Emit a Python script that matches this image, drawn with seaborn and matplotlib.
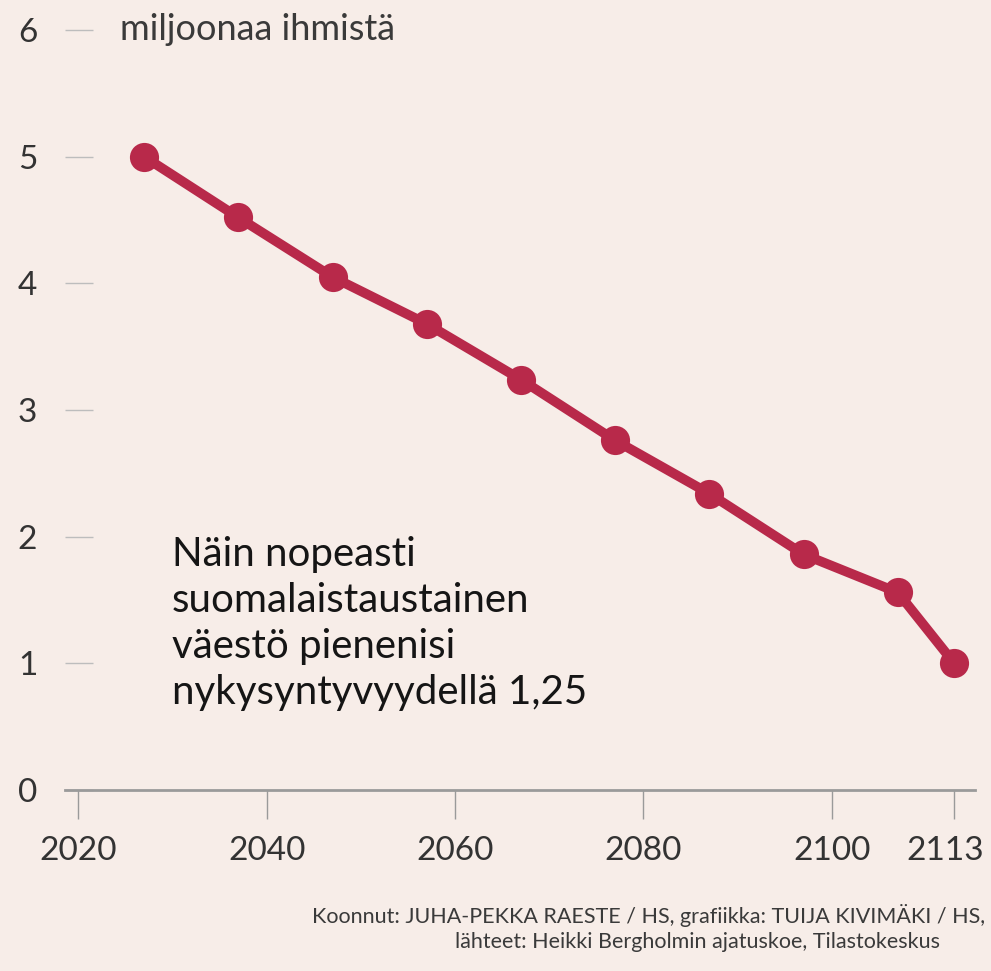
import matplotlib
matplotlib.use("Agg")
import matplotlib.pyplot as plt
import matplotlib.transforms as mtransforms
import seaborn as sns
import pandas as pd

# Data
years = [2027, 2037, 2047, 2057, 2067, 2077, 2087, 2097, 2107, 2113]
population = [5.0, 4.52, 4.05, 3.68, 3.24, 2.76, 2.34, 1.86, 1.56, 1.0]
xticks = [2020, 2040, 2060, 2080, 2100, 2113]
yticks = [0, 1, 2, 3, 4, 5, 6]

bg = "#f7ede8"
red = "#b8294a"

sns.set_style("white")
plt.rcParams["font.family"] = ["Lato", "DejaVu Sans"]

df = pd.DataFrame({"year": years, "pop": population})

fig = plt.figure(figsize=(9.91, 9.71), dpi=100, facecolor=bg)
ax = fig.add_axes([65 / 991, 1 - 790 / 971, 910 / 991, 760 / 971])
ax.set_facecolor(bg)

sns.lineplot(data=df, x="year", y="pop", ax=ax, color=red, linewidth=7,
             marker="o", markersize=21, markeredgewidth=0, clip_on=False)

ax.set_xlim(2018.6, 2115.2)
ax.set_ylim(0, 6)
ax.set_xticks(xticks)
ax.set_yticks(yticks)
ax.set_xlabel("")
ax.set_ylabel("")

for s in ["top", "right", "left"]:
    ax.spines[s].set_visible(False)
ax.spines["bottom"].set_color("#9a9a9a")
ax.spines["bottom"].set_linewidth(2)

ax.tick_params(axis="x", direction="out", length=21, width=1, color="#9a9a9a",
               labelsize=24, labelcolor="#333333", pad=12, bottom=True)
ax.tick_params(axis="y", direction="in", length=20, width=1, color="#bdbdbd",
               labelsize=24, labelcolor="#333333", pad=20, left=True)

# last year label sits tight against the right edge, nudge it left a bit
last = ax.get_xticklabels()[-1]
last.set_transform(last.get_transform() +
                   mtransforms.ScaledTranslation(-9 / 100, 0, fig.dpi_scale_trans))

ax.text(2024.4, 6, "miljoonaa ihmistä", fontsize=26, color="#3a3a3a",
        va="center", ha="left")

fig.text(172 / 991, 1 - 536 / 971,
         "Näin nopeasti\nsuomalaistaustainen\nväestö pienenisi\nnykysyntyvyydellä 1,25",
         fontsize=29, color="#151515", va="top", ha="left", linespacing=1.3)

fig.text(985 / 991, 1 - 915 / 971,
         "Koonnut: JUHA-PEKKA RAESTE / HS, grafiikka: TUIJA KIVIMÄKI / HS,",
         fontsize=15.5, color="#3a3a3a", ha="right", va="center")
fig.text(940 / 991, 1 - 942 / 971,
         "lähteet: Heikki Bergholmin ajatuskoe, Tilastokeskus",
         fontsize=15.5, color="#3a3a3a", ha="right", va="center")

fig.savefig("out.png", dpi=100, facecolor=bg)
